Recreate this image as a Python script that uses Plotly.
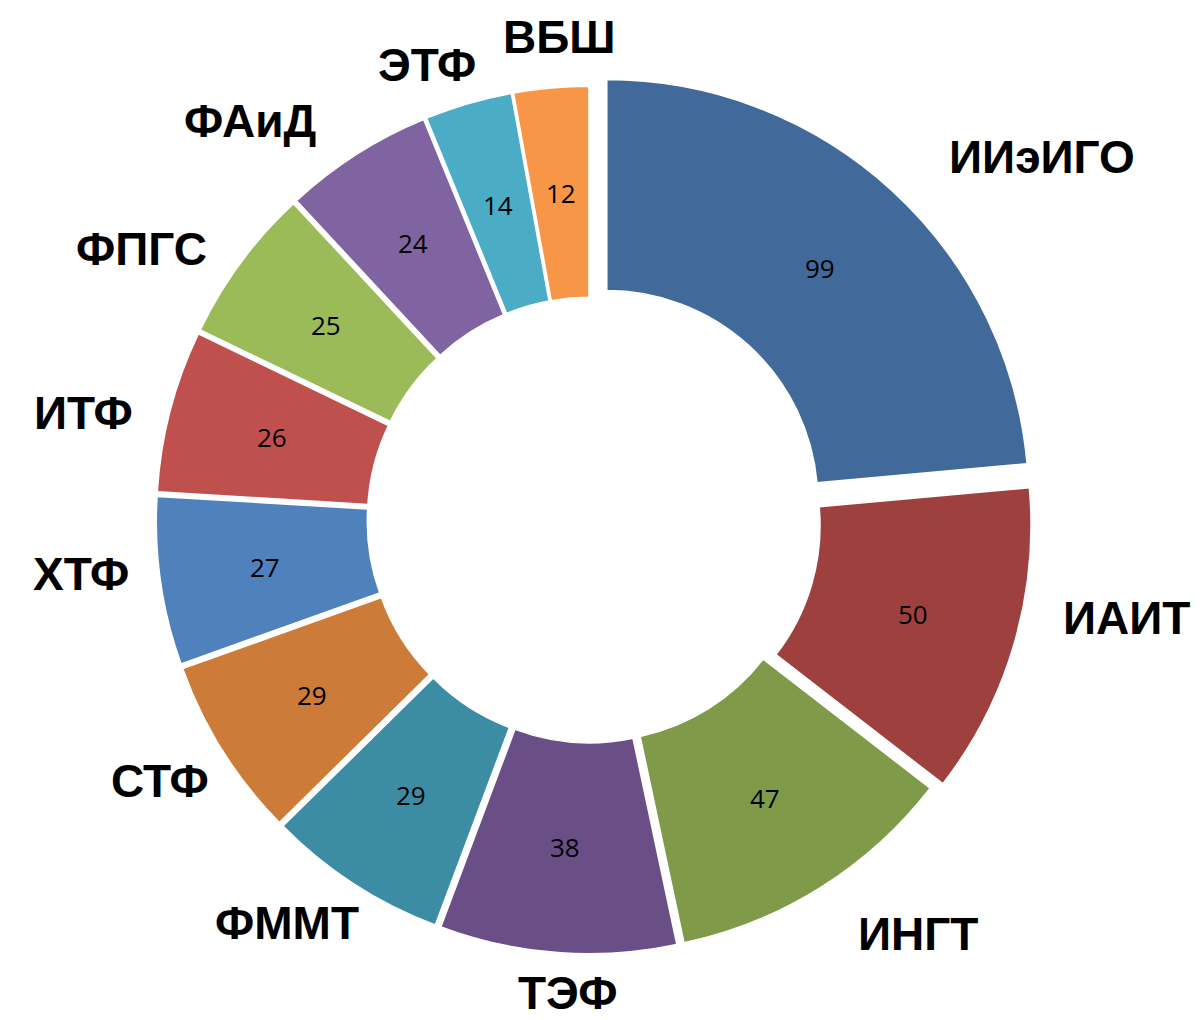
import math
import plotly.graph_objects as go

# ---- data ----
labels = ["ИИэИГО", "ИАИТ", "ИНГТ", "ТЭФ", "ФММТ", "СТФ", "ХТФ", "ИТФ", "ФПГС", "ФАиД", "ЭТФ", "ВБШ"]
values = [99, 50, 47, 38, 29, 29, 27, 26, 25, 24, 14, 12]

# ---- style ----
colors = ["#416A9B", "#9E413E", "#7F9A48", "#6A4F86", "#3C8DA3", "#CC7B38",
          "#4F81BD", "#C0504D", "#9BBB59", "#8064A2", "#4BACC6", "#F79646"]
pulls = [0.059, 0.047] + [0.028] * 10
label_nudge_deg = [8.8, -5.9, -6.3, -1.5, 3.9, 0.9, 2.1, -2.6, -5.3, -7.9, -3.4, 1.5]
label_nudge_r = [21, 13, 13, -10, -10, -7, 4, 8, 0, 8, -12, 0]

W, H = 1200, 1020
CX, CY = 582, 512          # pie centre in px (figure coords)
R = 422                    # outer radius in px
HOLE = 0.5
LABEL_FS = 46
VALUE_FS = 26

half = R * (1 + max(pulls))
domain_x = [(CX - half) / W, (CX + half) / W]
domain_y = [1 - (CY + half) / H, 1 - (CY - half) / H]

fig = go.Figure(go.Pie(
    labels=labels,
    values=values,
    sort=False,
    direction="clockwise",
    rotation=0,
    hole=HOLE,
    pull=pulls,
    marker=dict(colors=colors, line=dict(color="white", width=1.5)),
    textinfo="none",
    domain=dict(x=domain_x, y=domain_y),
    showlegend=False,
    hoverinfo="label+value",
))

total = sum(values)
cum = 0
annotations = []
for lab, v, p, nd, nr in zip(labels, values, pulls, label_nudge_deg, label_nudge_r):
    mid = (cum + v / 2) / total * 360.0
    cum += v
    # value label at mid-ring of the (pulled) slice
    tm = math.radians(mid)
    rv = R * (1 + HOLE) / 2 + R * p
    annotations.append(dict(
        x=(CX + rv * math.sin(tm)) / W, y=1 - (CY - rv * math.cos(tm)) / H,
        xref="paper", yref="paper", text=str(v), showarrow=False,
        xanchor="center", yanchor="middle",
        font=dict(family="Open Sans, DejaVu Sans, sans-serif", size=VALUE_FS, color="black"),
    ))
    # category label outside the ring
    th = math.radians(mid + nd)
    s, c = math.sin(th), math.cos(th)
    w2 = len(lab) * 0.34 * LABEL_FS
    h2 = 0.48 * LABEL_FS
    r_lab = R * (1 + p) + 25 + abs(s) * w2 + abs(c) * h2 + nr
    annotations.append(dict(
        x=(CX + r_lab * s) / W, y=1 - (CY - r_lab * c) / H,
        xref="paper", yref="paper", text=lab, showarrow=False,
        xanchor="center", yanchor="middle",
        font=dict(family="Liberation Sans, Arial, sans-serif", size=LABEL_FS,
                  color="black", weight="bold"),
    ))

fig.update_layout(
    width=W, height=H,
    margin=dict(l=0, r=0, t=0, b=0),
    paper_bgcolor="white",
    plot_bgcolor="white",
    annotations=annotations,
)

fig.write_html("out.html")
